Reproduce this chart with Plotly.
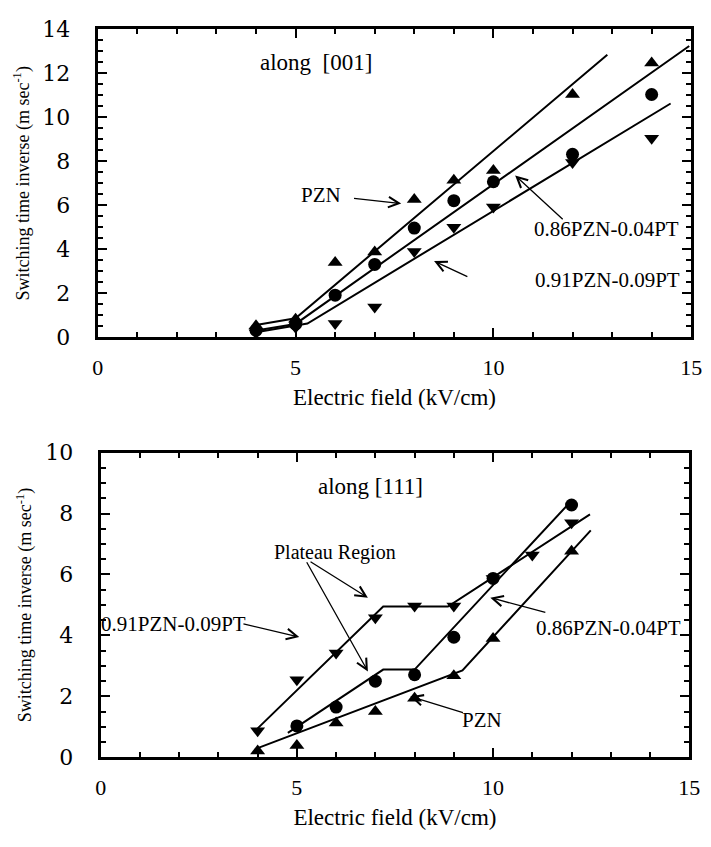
import plotly.graph_objects as go

# ---------------- data: along [001] ----------------
field_001 = [4, 5, 6, 7, 8, 9, 10, 12, 14]
pzn_001 = [0.52, 0.81, 3.39, 3.87, 6.26, 7.14, 7.58, 11.04, 12.47]
pzn86_001 = [0.30, 0.59, 1.91, 3.31, 4.96, 6.21, 7.07, 8.32, 11.04]
pzn91_001 = [0.20, 0.45, 0.62, 1.37, 3.90, 5.00, 5.92, 7.95, 9.05]

fit_pzn_001_x = [4, 5, 12.88]
fit_pzn_001_y = [0.55, 0.86, 12.85]
fit_pzn86_001_x = [4, 5, 14.95]
fit_pzn86_001_y = [0.30, 0.60, 13.25]
fit_pzn91_001_x = [4, 5.3, 14.48]
fit_pzn91_001_y = [0.22, 0.62, 10.63]

# ---------------- data: along [111] ----------------
field_111_pzn = [4, 5, 6, 7, 8, 9, 10, 12]
pzn_111 = [0.21, 0.39, 1.13, 1.50, 1.94, 2.68, 3.90, 6.76]
field_111_86 = [5, 6, 7, 8, 9, 10, 12]
pzn86_111 = [1.03, 1.65, 2.50, 2.71, 3.94, 5.87, 8.28]
field_111_91 = [4, 5, 6, 7, 8, 9, 10, 11, 12]
pzn91_111 = [0.87, 2.55, 3.42, 4.58, 4.97, 4.97, 5.87, 6.64, 7.70]

fit_pzn_111_x = [4, 9.22, 12.49]
fit_pzn_111_y = [0.30, 2.85, 7.45]
fit_pzn86_111_x = [4.77, 7.2, 8.0, 12.02]
fit_pzn86_111_y = [0.80, 2.88, 2.88, 8.45]
fit_pzn91_111_x = [4, 7.2, 8.85, 12.47]
fit_pzn91_111_y = [0.95, 4.95, 4.95, 7.97]

x_ticks = [0, 5, 10, 15]

SERIF = "Times New Roman"
TICKF = "DejaVu Serif"

fig = go.Figure()

def add_set(fx, fy, px, py, sym, xa, ya):
    fig.add_trace(go.Scatter(x=fx, y=fy, mode="lines", line=dict(color="black", width=2),
                             xaxis=xa, yaxis=ya, showlegend=False, hoverinfo="skip"))
    fig.add_trace(go.Scatter(x=px, y=py, mode="markers",
                             marker=dict(symbol=sym, color="black", size=13),
                             xaxis=xa, yaxis=ya, showlegend=False))

add_set(fit_pzn_001_x, fit_pzn_001_y, field_001, pzn_001, "triangle-up", "x", "y")
add_set(fit_pzn86_001_x, fit_pzn86_001_y, field_001, pzn86_001, "circle", "x", "y")
add_set(fit_pzn91_001_x, fit_pzn91_001_y, field_001, pzn91_001, "triangle-down", "x", "y")

add_set(fit_pzn_111_x, fit_pzn_111_y, field_111_pzn, pzn_111, "triangle-up", "x2", "y2")
add_set(fit_pzn86_111_x, fit_pzn86_111_y, field_111_86, pzn86_111, "circle", "x2", "y2")
add_set(fit_pzn91_111_x, fit_pzn91_111_y, field_111_91, pzn91_111, "triangle-down", "x2", "y2")

W, H = 711, 847

def xax(domain, anchor):
    return dict(domain=domain, anchor=anchor, range=[0, 15], tickvals=x_ticks,
                ticks="inside", ticklen=9, tickwidth=1.5, tickcolor="black",
                minor=dict(dtick=1, ticks="inside", ticklen=5, tickwidth=1.5, tickcolor="black"),
                showline=True, linewidth=3, linecolor="black", mirror="allticks",
                showgrid=False, zeroline=False,
                tickfont=dict(family=SERIF, size=22, color="black"),
                ticklabelstandoff=8,
                title=dict(text="Electric field (kV/cm)", font=dict(family=SERIF, size=23, color="black"),
                           standoff=11))

def yax(domain, anchor, rng):
    return dict(domain=domain, anchor=anchor, range=rng, dtick=2,
                ticks="inside", ticklen=9, tickwidth=1.5, tickcolor="black",
                minor=dict(dtick=0.5, ticks="inside", ticklen=5, tickwidth=1.5, tickcolor="black"),
                showline=True, linewidth=3, linecolor="black", mirror="allticks",
                showgrid=False, zeroline=False,
                tickfont=dict(family=TICKF, size=22, color="black"),
                ticklabelstandoff=20,
                title=dict(text="Switching time inverse (m sec<sup>-1</sup>)",
                           font=dict(family=SERIF, size=18, color="black"), standoff=9))

fig.update_layout(
    width=W, height=H, margin=dict(l=0, r=0, t=0, b=0),
    paper_bgcolor="white", plot_bgcolor="white",
    font=dict(family=SERIF, color="black"),
    xaxis=xax([94 / W, 702 / W], "y"),
    yaxis=yax([1 - 335 / H, 1 - 18 / H], "x", [0, 14]),
    xaxis2=xax([97 / W, 700 / W], "y2"),
    yaxis2=yax([1 - 768 / H, 1 - 454 / H], "x2", [0, 10]),
)

def label(text, x, y, xr, yr, size=21):
    fig.add_annotation(text=text, x=x, y=y, xref=xr, yref=yr, showarrow=False,
                       font=dict(family=SERIF, size=size, color="black"))

def arrow(xh, yh, xt, yt, xr, yr):
    fig.add_annotation(text="", x=xh, y=yh, ax=xt, ay=yt, xref=xr, yref=yr,
                       axref=xr, ayref=yr, showarrow=True, arrowhead=5, arrowsize=1.6,
                       arrowwidth=1.3, arrowcolor="black", standoff=0, startstandoff=0)

# top panel labels
label("along  [001]", 5.51, 12.5, "x", "y", 23)
label("PZN", 5.65, 6.45, "x", "y")
arrow(7.67, 6.08, 6.44, 6.32, "x", "y")
label("0.86PZN-0.04PT", 12.86, 4.93, "x", "y")
arrow(10.55, 7.36, 11.79, 5.3, "x", "y")
label("0.91PZN-0.09PT", 12.89, 2.58, "x", "y")
arrow(8.5, 3.46, 9.38, 2.72, "x", "y")

# bottom panel labels
label("along [111]", 6.87, 8.88, "x2", "y2", 23)
label("Plateau Region", 5.98, 6.71, "x2", "y2", 20)
arrow(6.81, 5.24, 5.31, 6.45, "x2", "y2")
arrow(6.81, 2.82, 5.23, 6.45, "x2", "y2")
label("0.91PZN-0.09PT", 1.85, 4.39, "x2", "y2")
arrow(5.06, 3.95, 3.6, 4.39, "x2", "y2")
label("0.86PZN-0.04PT", 12.93, 4.24, "x2", "y2")
arrow(9.93, 5.24, 11.37, 4.74, "x2", "y2")
label("PZN", 9.72, 1.24, "x2", "y2")
arrow(7.89, 2.0, 9.27, 1.45, "x2", "y2")

fig.write_html("out.html", config={"displayModeBar": False},
               post_script="document.body.style.margin='0';")
